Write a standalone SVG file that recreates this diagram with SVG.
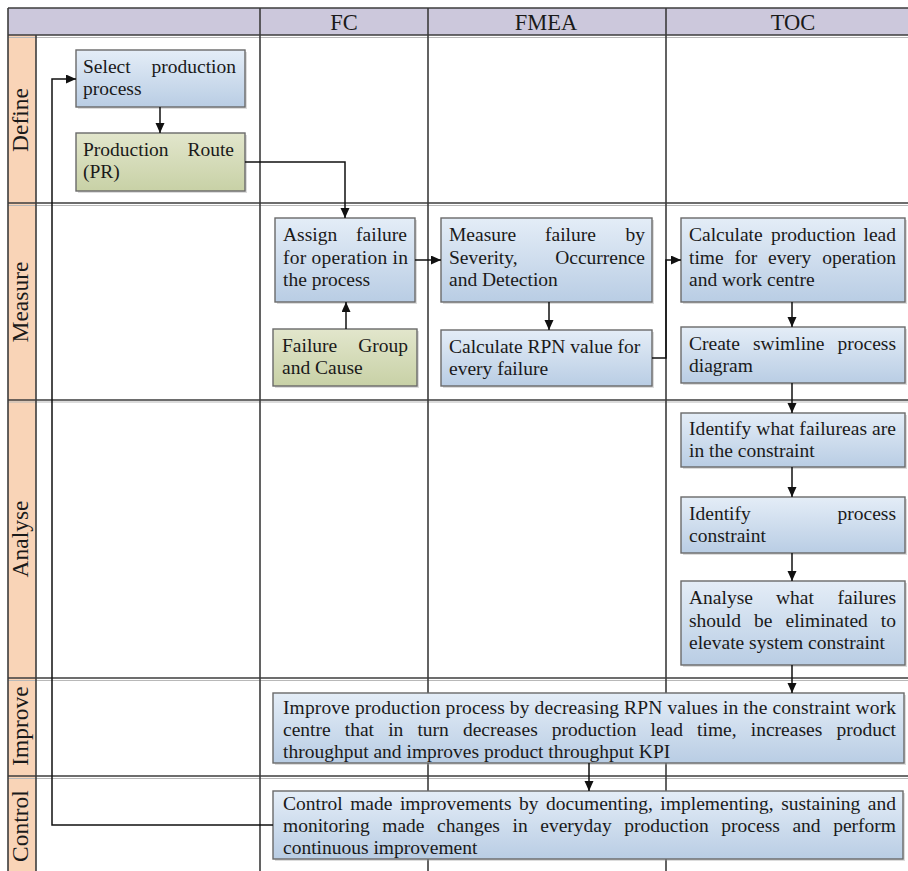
<svg xmlns="http://www.w3.org/2000/svg" width="908" height="871" viewBox="0 0 908 871">
<style>
.t{font-family:"Liberation Serif","Times New Roman",serif;font-size:19.5px;fill:#1a1a1a}
.e{text-anchor:end}
.hd{font-family:"Liberation Serif","Times New Roman",serif;font-size:22.5px;fill:#1a1a1a;text-anchor:middle}
.rl{font-family:"Liberation Serif","Times New Roman",serif;font-size:23.5px;fill:#1a1a1a;text-anchor:middle}
.bb{fill:url(#gb);stroke:#6a6a6a;stroke-width:1.4}
.bg{fill:url(#gg);stroke:#6a6a6a;stroke-width:1.4}
.sh{fill:#9a9a9a;opacity:0.35}
.gl{stroke:#3c3c3c;stroke-width:1.6;fill:none}
.gs{stroke:#b8b8b8;stroke-width:1.2;fill:none}
.c{stroke:#111;stroke-width:1.5;fill:none}
.ca{stroke:#111;stroke-width:1.5;fill:none;marker-end:url(#ah)}
</style>
<defs>
<linearGradient id="gb" x1="0" y1="0" x2="0" y2="1">
<stop offset="0" stop-color="#e4edf7"/>
<stop offset="1" stop-color="#b9cde4"/>
</linearGradient>
<linearGradient id="gg" x1="0" y1="0" x2="0" y2="1">
<stop offset="0" stop-color="#e2e6cc"/>
<stop offset="1" stop-color="#c8d1a6"/>
</linearGradient>
<marker id="ah" markerUnits="userSpaceOnUse" markerWidth="11" markerHeight="10" refX="10" refY="4.5" orient="auto">
<path d="M0,0 L10,4.5 L0,9 z" fill="#111"/>
</marker>
</defs>
<rect x="0" y="0" width="908" height="871" fill="#ffffff"/>

<g id="grid">
<rect x="8" y="8" width="902" height="27" fill="#ccc8dc"/>
<rect x="8" y="35" width="28" height="840" fill="#f9d4b7"/>
<line class="gs" x1="8" y1="37.5" x2="908" y2="37.5"/>
<line class="gs" x1="8" y1="205.5" x2="908" y2="205.5"/>
<line class="gs" x1="8" y1="402" x2="908" y2="402"/>
<line class="gs" x1="8" y1="680.5" x2="908" y2="680.5"/>
<line class="gs" x1="8" y1="778.5" x2="908" y2="778.5"/>
<line class="gl" x1="8" y1="8" x2="908" y2="8"/>
<line class="gl" x1="8" y1="35" x2="908" y2="35" stroke-width="2"/>
<line class="gl" x1="8" y1="203" x2="908" y2="203"/>
<line class="gl" x1="8" y1="400" x2="908" y2="400"/>
<line class="gl" x1="8" y1="678" x2="908" y2="678"/>
<line class="gl" x1="8" y1="776" x2="908" y2="776"/>
<line class="gl" x1="8" y1="8" x2="8" y2="871"/>
<line class="gl" x1="36" y1="35" x2="36" y2="871"/>
<line class="gl" x1="260" y1="8" x2="260" y2="871"/>
<line class="gl" x1="428" y1="8" x2="428" y2="871"/>
<line class="gl" x1="666" y1="8" x2="666" y2="871"/>
</g>

<g id="headers">
<text class="hd" x="344" y="30">FC</text>
<text class="hd" x="546" y="30">FMEA</text>
<text class="hd" x="793" y="30">TOC</text>
</g>

<g id="row-labels">
<text class="rl" transform="translate(28,120) rotate(-90)">Define</text>
<text class="rl" transform="translate(28,302) rotate(-90)">Measure</text>
<text class="rl" transform="translate(28,539) rotate(-90)">Analyse</text>
<text class="rl" transform="translate(28,726) rotate(-90)">Improve</text>
<text class="rl" transform="translate(28,826) rotate(-90)">Control</text>
</g>

<g id="n-select">
<rect class="sh" x="78" y="52" width="169" height="57"/>
<rect class="bb" x="76" y="50" width="169" height="57"/>
<text class="t" x="83" y="73">Select</text>
<text class="t e" x="236" y="73">production</text>
<text class="t" x="83" y="95">process</text>
</g>

<g id="n-route">
<rect class="sh" x="78" y="135" width="169" height="58"/>
<rect class="bg" x="76" y="133" width="169" height="58"/>
<text class="t" x="83" y="156">Production</text>
<text class="t e" x="234" y="156">Route</text>
<text class="t" x="83" y="178">(PR)</text>
</g>

<g id="n-assign">
<rect class="sh" x="277" y="220" width="140" height="84"/>
<rect class="bb" x="275" y="218" width="140" height="84"/>
<text class="t" x="283" y="241">Assign</text>
<text class="t e" x="407" y="241">failure</text>
<text class="t" x="283" y="263.5" textLength="125" lengthAdjust="spacing">for operation in</text>
<text class="t" x="283" y="286">the process</text>
</g>

<g id="n-failgroup">
<rect class="sh" x="275" y="331" width="144" height="57"/>
<rect class="bg" x="273" y="329" width="144" height="57"/>
<text class="t" x="282" y="352">Failure</text>
<text class="t e" x="408" y="352">Group</text>
<text class="t" x="282" y="374">and Cause</text>
</g>

<g id="n-measure">
<rect class="sh" x="443" y="220" width="211" height="84"/>
<rect class="bb" x="441" y="218" width="211" height="84"/>
<text class="t" x="449" y="241">Measure</text>
<text class="t" x="545" y="241">failure</text>
<text class="t e" x="645" y="241">by</text>
<text class="t" x="449" y="263.5">Severity,</text>
<text class="t e" x="645" y="263.5">Occurrence</text>
<text class="t" x="449" y="286">and Detection</text>
</g>

<g id="n-rpn">
<rect class="sh" x="443" y="332" width="211" height="56"/>
<rect class="bb" x="441" y="330" width="211" height="56"/>
<text class="t" x="449" y="353">Calculate RPN value for</text>
<text class="t" x="449" y="375">every failure</text>
</g>

<g id="n-leadtime">
<rect class="sh" x="683" y="220" width="224" height="84"/>
<rect class="bb" x="681" y="218" width="224" height="84"/>
<text class="t" x="689" y="241">Calculate</text>
<text class="t" x="771" y="241">production</text>
<text class="t e" x="896" y="241">lead</text>
<text class="t" x="689" y="263.5">time</text>
<text class="t" x="734.5" y="263.5">for</text>
<text class="t" x="768" y="263.5">every</text>
<text class="t e" x="896" y="263.5">operation</text>
<text class="t" x="689" y="286">and work centre</text>
</g>

<g id="n-swimlane">
<rect class="sh" x="683" y="329" width="224" height="56"/>
<rect class="bb" x="681" y="327" width="224" height="56"/>
<text class="t" x="689" y="350">Create</text>
<text class="t" x="753" y="350">swimline</text>
<text class="t e" x="896" y="350">process</text>
<text class="t" x="689" y="372">diagram</text>
</g>

<g id="n-identify-failures">
<rect class="sh" x="683" y="415" width="224" height="54"/>
<rect class="bb" x="681" y="413" width="224" height="54"/>
<text class="t" x="689" y="435" textLength="207" lengthAdjust="spacing">Identify what failureas are</text>
<text class="t" x="689" y="457">in the constraint</text>
</g>

<g id="n-identify-constraint">
<rect class="sh" x="683" y="499" width="224" height="56"/>
<rect class="bb" x="681" y="497" width="224" height="56"/>
<text class="t" x="689" y="520">Identify</text>
<text class="t e" x="896" y="520">process</text>
<text class="t" x="689" y="542">constraint</text>
</g>

<g id="n-analyse">
<rect class="sh" x="683" y="583" width="224" height="84"/>
<rect class="bb" x="681" y="581" width="224" height="84"/>
<text class="t" x="689" y="604">Analyse</text>
<text class="t" x="776" y="604">what</text>
<text class="t e" x="896" y="604">failures</text>
<text class="t" x="689" y="626.5">should</text>
<text class="t" x="754" y="626.5">be</text>
<text class="t" x="785.5" y="626.5">eliminated</text>
<text class="t e" x="896" y="626.5">to</text>
<text class="t" x="689" y="649">elevate system constraint</text>
</g>

<g id="n-improve">
<rect class="sh" x="275" y="695" width="631" height="70"/>
<rect class="bb" x="273" y="693" width="631" height="70"/>
<text class="t" x="283" y="714" textLength="613" lengthAdjust="spacing">Improve production process by decreasing RPN values in the constraint work</text>
<text class="t" x="283" y="736" word-spacing="9.2" textLength="613" lengthAdjust="spacing">centre that in turn decreases production lead time, increases product</text>
<text class="t" x="283" y="758">throughput and improves product throughput KPI</text>
</g>

<g id="n-control">
<rect class="sh" x="275" y="793" width="630" height="68"/>
<rect class="bb" x="273" y="791" width="630" height="68"/>
<text class="t" x="283" y="810" word-spacing="2.6" textLength="613" lengthAdjust="spacing">Control made improvements by documenting, implementing, sustaining and</text>
<text class="t" x="283" y="832" word-spacing="7.7" textLength="613" lengthAdjust="spacing">monitoring made changes in everyday production process and perform</text>
<text class="t" x="283" y="854">continuous improvement</text>
</g>

<g id="connectors">
<path class="ca" d="M160,107 V133"/>
<path class="ca" d="M245,162 H345 V218"/>
<path class="ca" d="M346,329 V302"/>
<path class="ca" d="M415,260 H441"/>
<path class="ca" d="M549,302 V330"/>
<path class="ca" d="M652,358 H666 V260 H681"/>
<path class="ca" d="M792,302 V327"/>
<path class="ca" d="M792,383 V413"/>
<path class="ca" d="M792,467 V497"/>
<path class="ca" d="M792,553 V581"/>
<path class="ca" d="M792,665 V693"/>
<path class="ca" d="M589,763 V791"/>
<path class="ca" d="M273,825 H52 V79 H76"/>
</g>
</svg>
